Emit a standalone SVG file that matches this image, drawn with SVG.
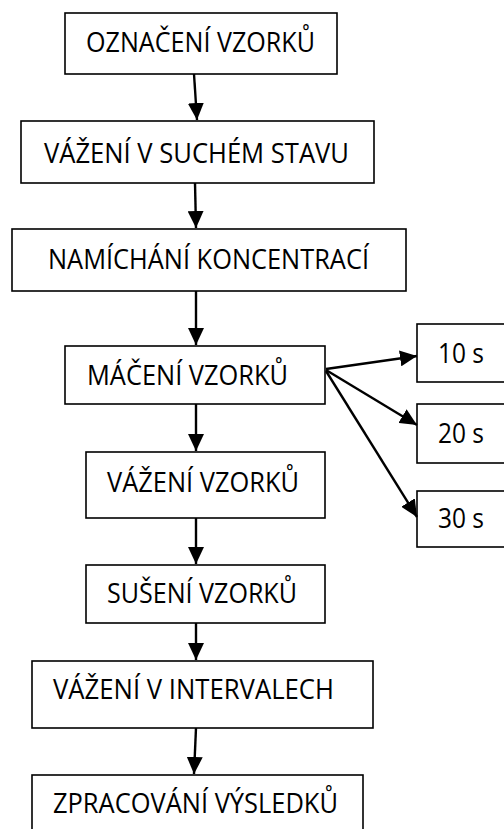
<svg xmlns="http://www.w3.org/2000/svg" width="504" height="829" viewBox="0 0 504 829">
<style>
.box rect{fill:#fff;stroke:#000;stroke-width:1.6}
.box text{font-family:"Open Sans","DejaVu Sans",sans-serif;font-size:26.5px;fill:#000}
.conn line{stroke:#000;stroke-width:2.4;marker-end:url(#ah)}
</style>
<defs>
<marker id="ah" markerUnits="userSpaceOnUse" markerWidth="18" markerHeight="16" refX="17" refY="8" orient="auto">
<path d="M0,0 L17,8 L0,16 Z" fill="#000"/>
</marker>
</defs>
<rect width="504" height="829" fill="#fff"/>
<g id="n1" class="box"><rect x="65" y="13" width="272" height="61"/><text x="86" y="52" textLength="229" lengthAdjust="spacingAndGlyphs">OZNAČENÍ VZORKŮ</text></g>
<g id="n2" class="box"><rect x="21" y="121" width="353" height="62"/><text x="44" y="163" textLength="305" lengthAdjust="spacingAndGlyphs">VÁŽENÍ V SUCHÉM STAVU</text></g>
<g id="n3" class="box"><rect x="12" y="229" width="394" height="62"/><text x="48" y="269" textLength="321" lengthAdjust="spacingAndGlyphs">NAMÍCHÁNÍ KONCENTRACÍ</text></g>
<g id="n4" class="box"><rect x="65" y="346" width="260" height="58"/><text x="87" y="385" textLength="201" lengthAdjust="spacingAndGlyphs">MÁČENÍ VZORKŮ</text></g>
<g id="n5" class="box"><rect x="86" y="452" width="239" height="66"/><text x="107" y="492" textLength="192" lengthAdjust="spacingAndGlyphs">VÁŽENÍ VZORKŮ</text></g>
<g id="n6" class="box"><rect x="86" y="565" width="239" height="58"/><text x="107" y="603" textLength="190" lengthAdjust="spacingAndGlyphs">SUŠENÍ VZORKŮ</text></g>
<g id="n7" class="box"><rect x="32" y="661" width="341" height="67"/><text x="53" y="699" textLength="281" lengthAdjust="spacingAndGlyphs">VÁŽENÍ V INTERVALECH</text></g>
<g id="n8" class="box"><rect x="32" y="775" width="331" height="70"/><text x="53" y="813" textLength="285" lengthAdjust="spacingAndGlyphs">ZPRACOVÁNÍ VÝSLEDKŮ</text></g>
<g id="t10" class="box"><rect x="417" y="324" width="100" height="58"/><text x="438" y="363" textLength="46" lengthAdjust="spacingAndGlyphs">10 s</text></g>
<g id="t20" class="box"><rect x="417" y="404" width="100" height="59"/><text x="438" y="443" textLength="46" lengthAdjust="spacingAndGlyphs">20 s</text></g>
<g id="t30" class="box"><rect x="417" y="491" width="100" height="56"/><text x="438" y="528" textLength="46" lengthAdjust="spacingAndGlyphs">30 s</text></g>
<g id="connectors" class="conn">
<line x1="194" y1="74" x2="197" y2="120"/>
<line x1="195" y1="183" x2="196" y2="228"/>
<line x1="196" y1="291" x2="196" y2="345"/>
<line x1="196" y1="404" x2="196" y2="451"/>
<line x1="196" y1="518" x2="196" y2="564"/>
<line x1="196" y1="623" x2="196" y2="660"/>
<line x1="196" y1="728" x2="194" y2="774"/>
<line x1="326" y1="369" x2="417" y2="356"/>
<line x1="326" y1="370" x2="417" y2="425"/>
<line x1="326" y1="371" x2="417" y2="517"/>
</g>
</svg>
